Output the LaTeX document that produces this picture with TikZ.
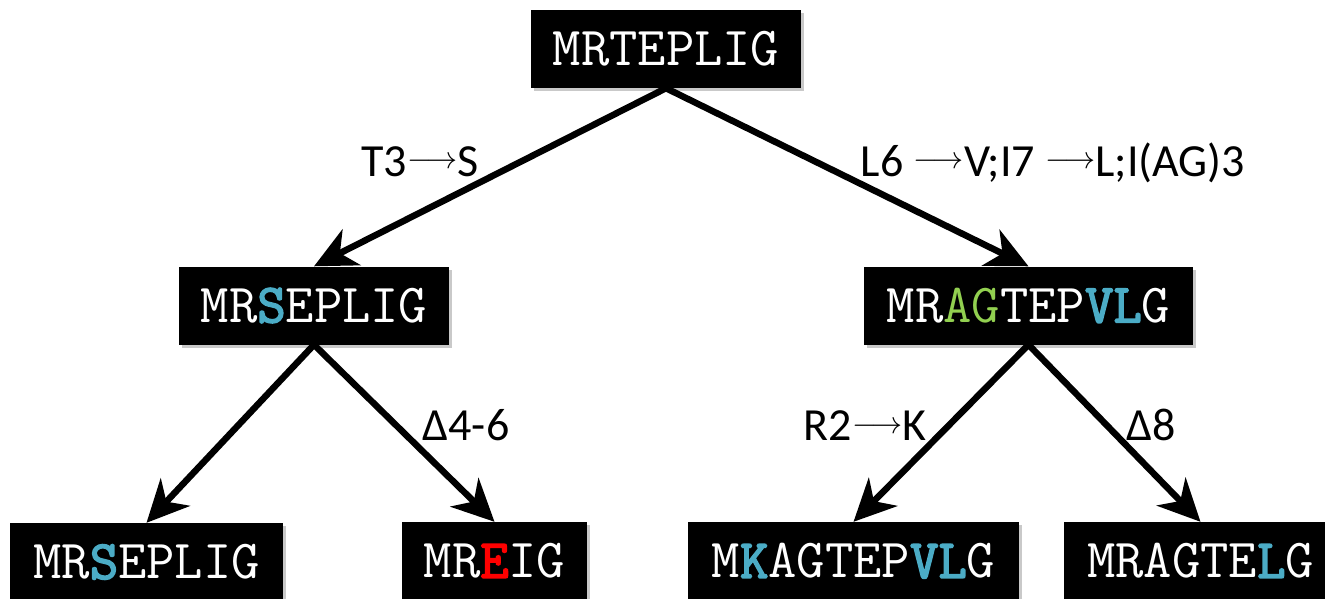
\documentclass[tikz,border=0pt]{standalone}
\usepackage{fontspec}
\setmainfont{Carlito}
\newfontfamily\seqbold[FakeBold=3]{Latin Modern Mono}
\usetikzlibrary{arrows.meta,shadows}
\definecolor{seqblue}{HTML}{4BACC6}
\definecolor{seqgreen}{HTML}{92D050}
\definecolor{seqred}{HTML}{FF0000}
\newcommand{\hb}[1]{\textcolor{seqblue}{\seqbold #1}}
\newcommand{\hg}[1]{\textcolor{seqgreen}{#1}}
\newcommand{\hr}[1]{\textcolor{seqred}{\seqbold #1}}
\newcommand{\arr}{\raisebox{7pt}{\scalebox{1.25}{$\longrightarrow$}}}
\tikzset{
  seqbox/.style={fill=black, text=white, inner sep=0pt, minimum height=78pt,
    font=\ttfamily\fontsize{55}{55}\selectfont,
    drop shadow={shadow xshift=3pt, shadow yshift=-3pt, opacity=0.35, fill=black!60}},
  link/.style={line width=6.5pt, -{Stealth[length=42pt,width=40pt,inset=13pt]}},
  lbl/.style={font=\fontsize{46}{46}\selectfont, anchor=base, inner sep=0pt}
}
\begin{document}
\begin{tikzpicture}[x=1pt,y=-1pt]
\fill[white] (0,0) rectangle (1325,599);
\useasboundingbox (0,0) rectangle (1325,599);
\node[seqbox, minimum width=270pt] (root) at (666,49) {MRTEPLIG};
\node[seqbox, minimum width=270pt] (ml) at (314,305.5) {MR\hb{S}EPLIG};
\node[seqbox, minimum width=329pt] (mr) at (1028.5,305.5) {MR\hg{AG}TEP\hb{VL}G};
\node[seqbox, minimum width=273pt] (bl) at (146.5,562) {MR\hb{S}EPLIG};
\node[seqbox, minimum width=185pt] (be) at (494.5,561) {MR\hr{E}IG};
\node[seqbox, minimum width=331pt] (bk) at (853.5,561) {M\hb{K}AGTEP\hb{VL}G};
\node[seqbox, minimum width=273pt] (bg) at (1200.5,561) {MRAGTE\hb{L}G};

\draw[link] (root.south) -- (ml.north);
\draw[link] (root.south) -- (mr.north);
\draw[link] (ml.south) -- (bl.north);
\draw[link] (ml.south) -- (be.north);
\draw[link] (mr.south) -- (bk.north);
\draw[link] (mr.south) -- (bg.north);

\node[lbl] (l1) at (420,176) {T3\arr S};
\node[lbl] (l2) at (1053,176) {L6 \arr V;I7 \arr L;I(AG)3};
\node[lbl] (l3) at (466,440) {Δ4-6};
\node[lbl] (l4) at (865,440) {R2\arr K};
\node[lbl] (l5) at (1151,440) {Δ8};
\end{tikzpicture}
\end{document}
